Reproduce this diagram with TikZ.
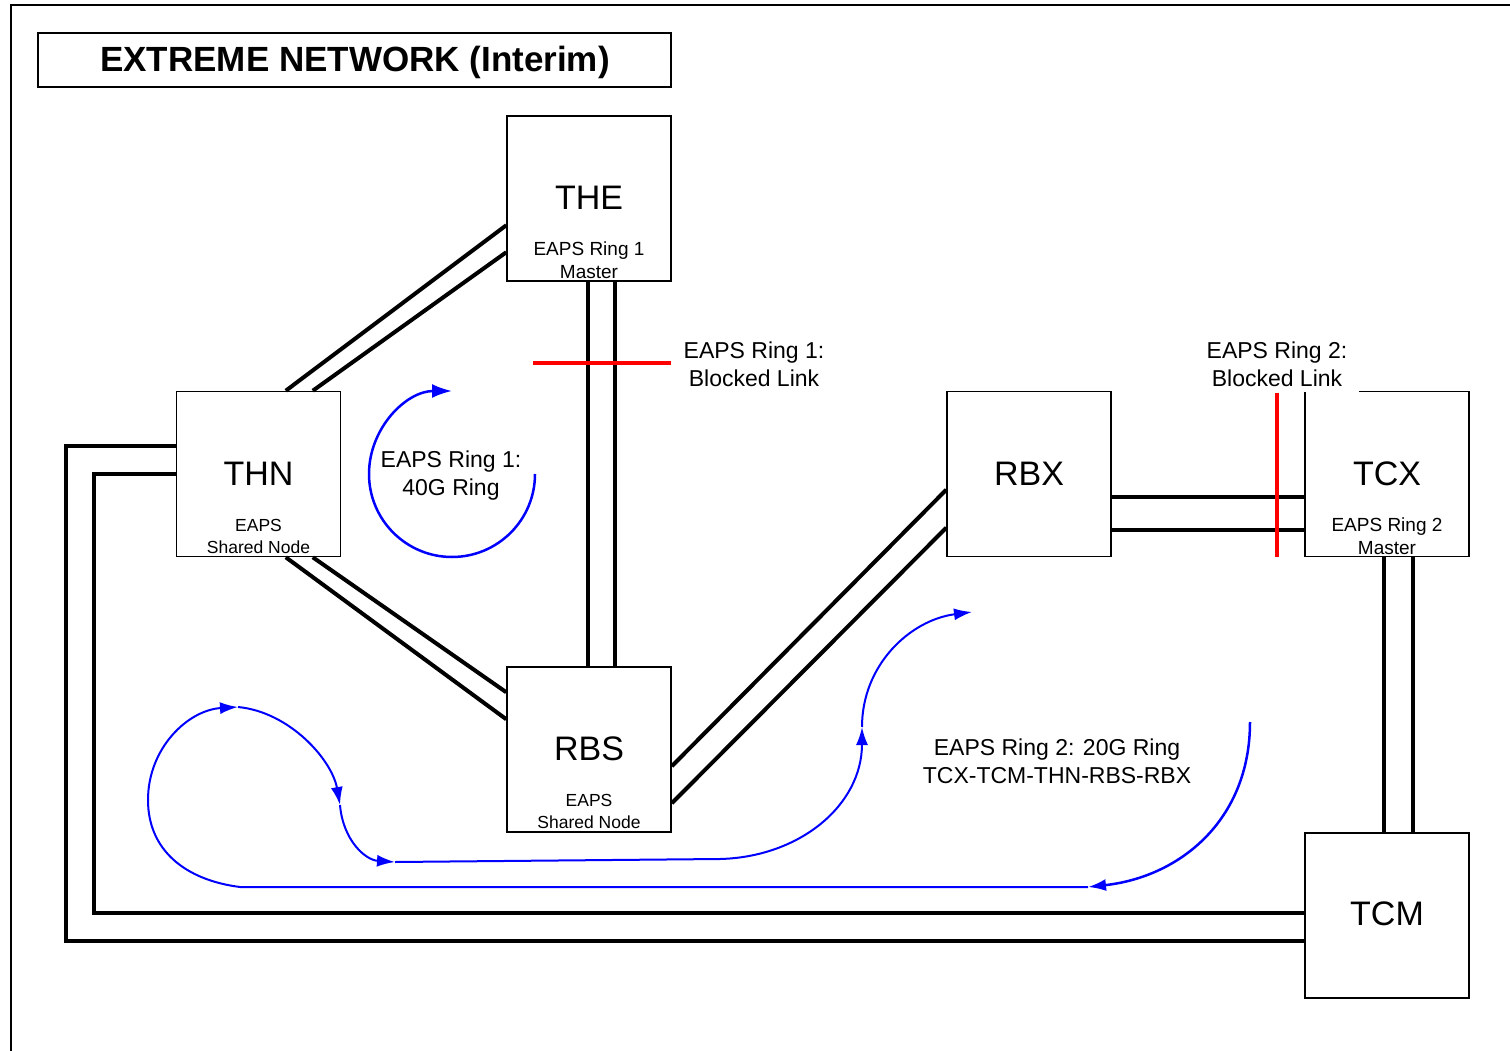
\documentclass[tikz,border=0pt]{standalone}
\usepackage{fontspec}
\setmainfont{Liberation Sans}
\usepackage{tikz}
\usetikzlibrary{arrows.meta, calc}

\tikzset{
    unit/.style={draw, line width=1.5pt, minimum width=164pt, minimum height=165pt, inner sep=0pt},
    site/.style={font=\fontsize{34}{40}\selectfont, inner sep=0pt},
    role/.style={font=\fontsize{19}{23}\selectfont, align=center, inner sep=0pt},
    shared/.style={font=\fontsize{17.5}{22}\selectfont, align=center, inner sep=0pt},
    note/.style={font=\fontsize{23}{28}\selectfont, align=center, inner sep=0pt},
    link/.style={line width=4pt},
    blocked/.style={red, line width=3.5pt},
    flow/.style={blue, line width=2pt, -{Latex[length=18pt,width=12pt]}},
}

\begin{document}
\begin{tikzpicture}[x=1pt, y=1pt]
            \useasboundingbox (0,0) rectangle (1510,-1051);
            % Frame and title
            \draw[line width=2.5pt] (11,-1051) -- (11,-5) -- (1510,-5);
            \draw[line width=1.5pt] (38,-33) rectangle (671,-87);
            \node[font=\bfseries\fontsize{35}{40}\selectfont, inner sep=0pt] (title) at (355,-62) {EXTREME NETWORK (Interim)};

            % Switches
            \node[unit] (THE) at (589,-198.5) {};
            \node[unit] (THN) at (258.5,-474) {};
            \node[unit] (RBS) at (589,-749.5) {};
            \node[unit] (RBX) at (1029,-474) {};
            \node[unit] (TCX) at (1387,-474) {};
            \node[unit] (TCM) at (1387,-915.5) {};

            \node[site] (THE-name) at ([yshift=-83pt]THE.north) {THE};
            \node[role] (THE-role) at ([yshift=-145pt]THE.north) {EAPS Ring 1\\Master};
            \node[site] (THN-name) at ([yshift=-83pt]THN.north) {THN};
            \node[shared] (THN-role) at ([yshift=-145.5pt]THN.north) {EAPS\\Shared Node};
            \node[site] (RBS-name) at ([yshift=-83pt]RBS.north) {RBS};
            \node[shared] (RBS-role) at ([yshift=-145.5pt]RBS.north) {EAPS\\Shared Node};
            \node[site] (RBX-name) at ([yshift=-83pt]RBX.north) {RBX};
            \node[site] (TCX-name) at ([yshift=-83pt]TCX.north) {TCX};
            \node[role] (TCX-role) at ([yshift=-145.5pt]TCX.north) {EAPS Ring 2\\Master};
            \node[site] (TCM-name) at ([yshift=-82pt]TCM.north) {TCM};

            % Ring 1 links
            \draw[link] ([yshift=-110pt]THE.north west) -- ([xshift=110pt]THN.north west);
            \draw[link] ([yshift=-137pt]THE.north west) -- ([xshift=137pt]THN.north west);
            \draw[link] ([xshift=82pt]THE.south west) -- ([xshift=82pt]RBS.north west);
            \draw[link] ([xshift=109pt]THE.south west) -- ([xshift=109pt]RBS.north west);
            \draw[link] ([xshift=110pt]THN.south west) -- ([yshift=-53pt]RBS.north west);
            \draw[link] ([xshift=137pt]THN.south west) -- ([yshift=-26pt]RBS.north west);

            % Ring 2 links
            \draw[link] ([yshift=-100pt]RBS.north east) -- ([yshift=-99pt]RBX.north west);
            \draw[link] ([yshift=-137pt]RBS.north east) -- ([yshift=-137pt]RBX.north west);
            \draw[link] ([yshift=-106pt]RBX.north east) -- ([yshift=-106pt]TCX.north west);
            \draw[link] ([yshift=-139pt]RBX.north east) -- ([yshift=-139pt]TCX.north west);
            \draw[link] ([xshift=80pt]TCX.south west) -- ([xshift=80pt]TCM.north west);
            \draw[link] ([xshift=109pt]TCX.south west) -- ([xshift=109pt]TCM.north west);
            \draw[link] ([yshift=-55pt]THN.north west) -- ++(-110,0) |- ([yshift=-109pt]TCM.north west);
            \draw[link] ([yshift=-83pt]THN.north west) -- ++(-82,0) |- ([yshift=-81pt]TCM.north west);

            % Blocked links
            \draw[blocked] (533,-363) -- (671,-363);
            \draw[blocked] (1277,-393) -- (1277,-557);
            \node[note] (block1) at (754,-364) {EAPS Ring 1:\\Blocked Link};
            \node[note, fill=white, inner xsep=12pt, inner ysep=6pt] (block2) at (1277,-364) {EAPS Ring 2:\\Blocked Link};

            % Ring 1 flow
            \draw[flow, line width=2.5pt, -{Latex[length=20pt,width=14pt]}] (535,-474) arc[start angle=0, end angle=-270, radius=83];
            \node[note] (ring1) at (451,-476) {EAPS Ring 1:\\40G Ring};

            % Ring 2 flow
            \draw[flow, line width=2.5pt] (1250,-722) .. controls (1250,-820) and (1180,-877) .. (1088,-887);
            \draw[blue, line width=2pt] (1088,-887) -- (240,-887) .. controls (185,-880) and (148,-850) .. (148,-800);
            \draw[flow] (148,-800) .. controls (148,-748) and (188,-710) .. (238,-707);
            \draw[flow] (238,-707) .. controls (290,-712) and (332,-760) .. (340,-805);
            \draw[flow] (340,-805) .. controls (343,-840) and (365,-860) .. (395,-862);
            \draw[flow] (395,-862) -- (720,-859) .. controls (800,-857) and (862,-805) .. (862,-727);
            \draw[flow] (862,-727) .. controls (862,-665) and (910,-620) .. (972,-612);
            \node[note] (ring2) at (1057,-761) {EAPS Ring 2: 20G Ring\\TCX-TCM-THN-RBS-RBX};
\end{tikzpicture}
\end{document}
